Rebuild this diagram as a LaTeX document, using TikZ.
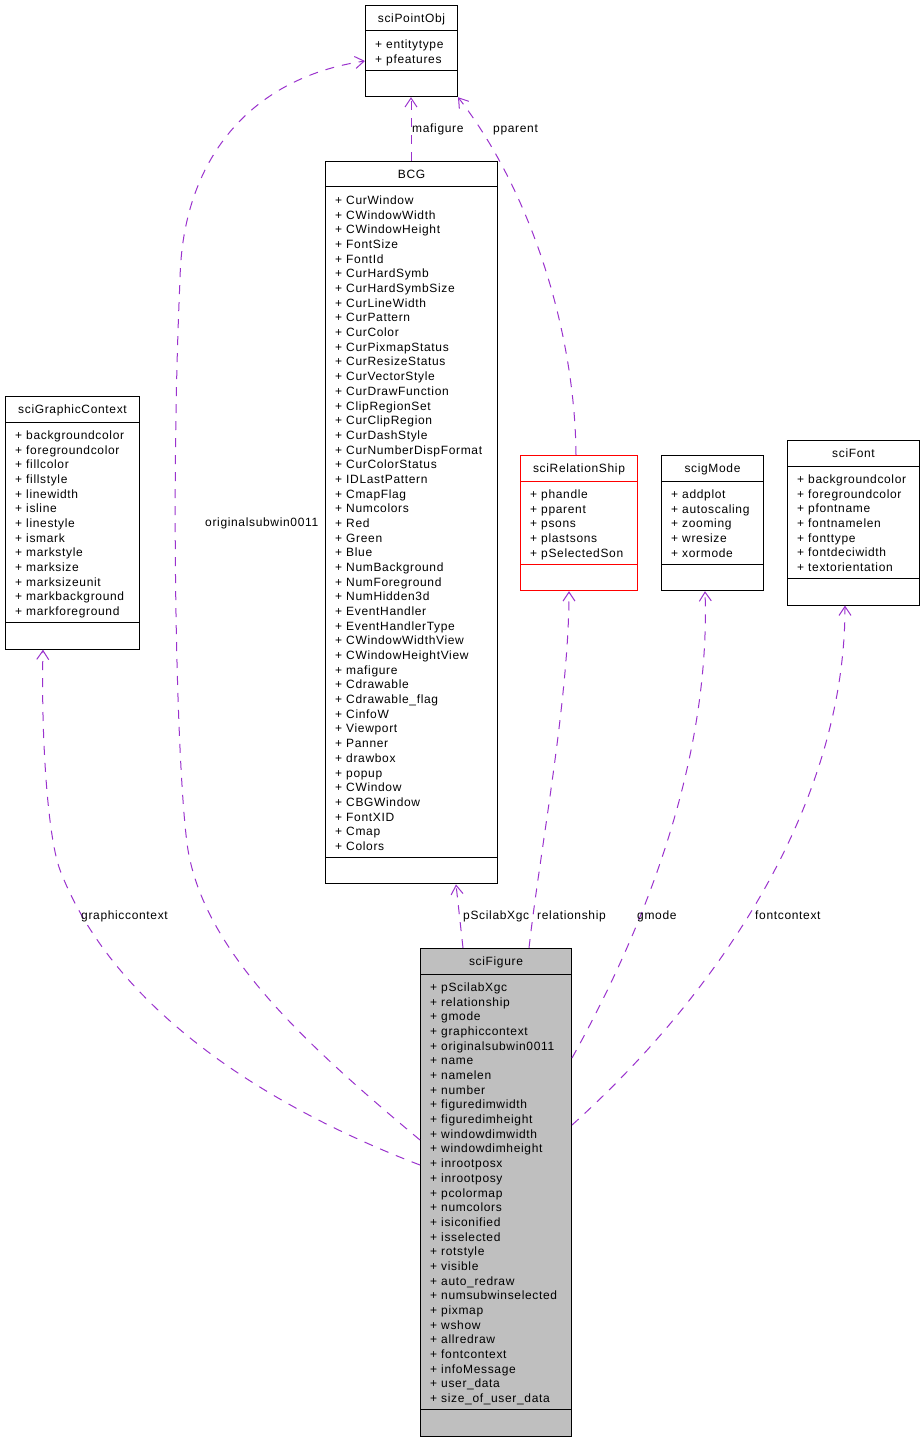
\documentclass[tikz,border=0pt]{standalone}
\usepackage{fontspec}
\setmainfont{Liberation Sans}[LetterSpace=5.5]
\usepackage{tikz}
\usetikzlibrary{arrows.meta,calc}

\definecolor{depcolor}{HTML}{9A32CD}
\definecolor{figgray}{HTML}{BFBFBF}

\tikzset{
  classbox/.style={draw=black, line width=1bp, inner sep=0pt, anchor=north west},
  classtext/.style={inner sep=0pt, font=\fontsize{12bp}{14bp}\selectfont},
  dep/.style={draw=depcolor, line width=1bp, dash pattern=on 9bp off 8bp,
    -{Straight Barb[length=9bp,width=12bp]}},
  deplabel/.style={classtext, anchor=base west},
}

% [box style] name, x, y, width, number of attributes, title, attributes
\newcommand\umlclass[8][]{%
  \pgfmathsetmacro\sepb{39+14.68*(#6-1)+11.5}
  \pgfmathsetmacro\boxh{\sepb+26}
  \node[classbox,#1,minimum width=#5bp,minimum height=\boxh bp] (#2) at (#3,#4) {};
  \draw[line width=1bp,#1] ($(#2.north west)+(0,26)$) -- ($(#2.north east)+(0,26)$);
  \draw[line width=1bp,#1] ($(#2.north west)+(0,\sepb)$) -- ($(#2.north east)+(0,\sepb)$);
  \node[classtext,anchor=base] (#2-title) at ($(#2.north)+(0,17.5)$) {#7};
  \foreach \a [count=\i from 0] in {#8}{
    \node[classtext,anchor=base west] (#2-attr\i) at ($(#2.north west)+(10,43.5+14.68*\i)$) {+ \a};
  }
}

\begin{document}
\begin{tikzpicture}[x=1bp,y=-1bp]
\useasboundingbox (0,0) rectangle (922,1439);

\umlclass{pointobj}{365}{5}{92}{2}{sciPointObj}{entitytype,pfeatures}

\umlclass{bcg}{325}{161}{172}{45}{BCG}{CurWindow,CWindowWidth,CWindowHeight,FontSize,FontId,
  CurHardSymb,CurHardSymbSize,CurLineWidth,CurPattern,CurColor,CurPixmapStatus,CurResizeStatus,
  CurVectorStyle,CurDrawFunction,ClipRegionSet,CurClipRegion,CurDashStyle,CurNumberDispFormat,
  CurColorStatus,IDLastPattern,CmapFlag,Numcolors,Red,Green,Blue,NumBackground,NumForeground,
  NumHidden3d,EventHandler,EventHandlerType,CWindowWidthView,CWindowHeightView,mafigure,
  Cdrawable,Cdrawable\_flag,CinfoW,Viewport,Panner,drawbox,popup,CWindow,CBGWindow,FontXID,
  Cmap,Colors}

\umlclass{graphctx}{5}{396}{134}{13}{sciGraphicContext}{backgroundcolor,foregroundcolor,
  fillcolor,fillstyle,linewidth,isline,linestyle,ismark,markstyle,marksize,marksizeunit,
  markbackground,markforeground}

\umlclass[draw=red]{relship}{520}{455}{117}{5}{sciRelationShip}{phandle,pparent,psons,
  plastsons,pSelectedSon}

\umlclass{gmode}{661}{455}{102}{5}{scigMode}{addplot,autoscaling,zooming,wresize,xormode}

\umlclass{scifont}{787}{440}{132}{7}{sciFont}{backgroundcolor,foregroundcolor,pfontname,
  fontnamelen,fonttype,fontdeciwidth,textorientation}

\umlclass[fill=figgray]{figure}{420}{948}{151}{29}{sciFigure}{pScilabXgc,relationship,gmode,
  graphiccontext,originalsubwin0011,name,namelen,number,figuredimwidth,figuredimheight,
  windowdimwidth,windowdimheight,inrootposx,inrootposy,pcolormap,numcolors,isiconified,
  isselected,rotstyle,visible,auto\_redraw,numsubwinselected,pixmap,wshow,allredraw,
  fontcontext,infoMessage,user\_data,size\_of\_user\_data}

% dependencies
\draw[dep] ($(bcg.north west)+(86,0)$) -- ($(pointobj.south west)+(46,0)$);
\node[deplabel] (l-mafigure) at (412,132.5) {mafigure};

\draw[dep] ($(relship.north west)+(56,0)$) .. controls (575,330) and (530,190) .. (pointobj.south east);
\node[deplabel] (l-pparent) at (493,132.5) {pparent};

\draw[dep] ($(figure.north west)+(43,0)$) -- ($(bcg.south west)+(131,0)$);
\node[deplabel] (l-pscilab) at (463,919.5) {pScilabXgc};

\draw[dep] ($(figure.north west)+(109,0)$) .. controls (540,850) and (569,700) .. ($(relship.south west)+(49,0)$);
\node[deplabel] (l-relship) at (537,919.5) {relationship};

\draw[dep] ($(figure.north east)+(0,110)$) .. controls (660,900) and (710,740) .. ($(gmode.south west)+(44,0)$);
\node[deplabel] (l-gmode) at (637,919.5) {gmode};

\draw[dep] ($(figure.north east)+(0,177)$) .. controls (700,1010) and (845,820) .. ($(scifont.south west)+(58,0)$);
\node[deplabel] (l-fontctx) at (755,919.5) {fontcontext};

\draw[dep] ($(figure.north west)+(0,217)$) .. controls (250,1100) and (110,1000) .. (60,870)
  .. controls (47,835) and (41,730) .. ($(graphctx.south west)+(38,0)$);
\node[deplabel] (l-graphctx) at (81,919.5) {graphiccontext};

\draw[dep] ($(figure.north west)+(0,192)$) .. controls (300,1040) and (205,950) .. (188,850)
  .. controls (177,780) and (170,500) .. (180,280)
  .. controls (182,160) and (250,78) .. ($(pointobj.north west)+(0,56)$);
\node[deplabel] (l-subwin) at (205,526.5) {originalsubwin0011};

\end{tikzpicture}
\end{document}
